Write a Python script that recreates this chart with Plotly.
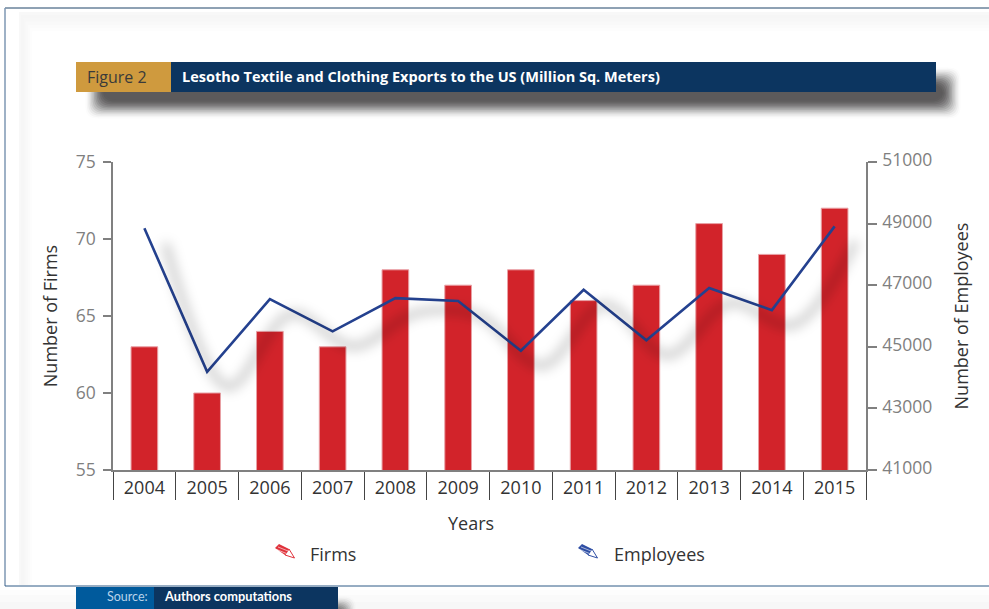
import plotly.graph_objects as go

W, H = 989, 609

# Chart data
years = ["2004", "2005", "2006", "2007", "2008", "2009",
         "2010", "2011", "2012", "2013", "2014", "2015"]
firms = [63, 60, 64, 63, 68, 67, 68, 66, 67, 71, 69, 72]
employees = [48850, 44190, 46550, 45500, 46580, 46490,
             44870, 46850, 45210, 46910, 46190, 48910]
firm_ticks = [55, 60, 65, 70, 75]
employee_ticks = [41000, 43000, 45000, 47000, 49000, 51000]

# Text
figure_label = "Figure 2"
figure_title = "Lesotho Textile and Clothing Exports to the US (Million Sq. Meters)"
source_label = "Source:"
source_text = "Authors computations"

# Colours and fonts
NAVY = "#0c3560"
GOLD = "#cf9a3e"
SOURCE_BLUE = "#005a9c"
RED = "#d2232a"
BLUE = "#24418f"
AXIS_GREY = "#808080"
TICK_GREY = "#7f7f7f"
INK = "#333333"
FONT = "Open Sans"
NARROW = "Lato"

# Plot rectangle in pixels
PX_L, PX_R, PX_T, PX_B = 113, 866, 162, 470
SHADOW_DX, SHADOW_DY = 21, 15
SHADOW_WIDTH = 8


def px(x):
    return x / W


def py(y):
    return 1 - y / H


def rect(x0, y0, x1, y1, fill, layer="below"):
    return dict(type="rect", xref="paper", yref="paper", layer=layer,
                x0=px(x0), x1=px(x1), y0=py(y0), y1=py(y1),
                fillcolor=fill, line=dict(width=0))


def round_rect_path(x0, y0, x1, y1, r):
    a, b, c, d = px(x0), px(x1), py(y0), py(y1)
    rx, ry = r / W, r / H
    return (f"M{a+rx},{c} L{b-rx},{c} Q{b},{c} {b},{c-ry} L{b},{d+ry} Q{b},{d} {b-rx},{d} "
            f"L{a+rx},{d} Q{a},{d} {a},{d+ry} L{a},{c-ry} Q{a},{c} {a+rx},{c} Z")


def soft_box(x0, y0, x1, y1, color, spread=9, steps=14):
    """Stack of translucent rounded boxes that fades out towards the edge."""
    out, prev = [], 0.0
    for i in range(1, steps + 1):
        f = i / steps
        target = f * f * (3 - 2 * f)
        alpha = 1.0 if target >= 1 else 1 - (1 - target) / (1 - prev)
        prev = target
        g = spread * (1 - 2 * f)
        out.append(dict(type="path", xref="paper", yref="paper", layer="below",
                        path=round_rect_path(x0 - g, y0 - g, x1 + g, y1 + g, spread * 1.2),
                        fillcolor=color, opacity=round(alpha, 4), line=dict(width=0)))
    return out


def pencil(x, y, body):
    """Striped legend pencil; (x, y) is the top-left of its bounding box."""
    def pt(dx, dy):
        return f"{px(x + dx)},{py(y + dy)}"

    def path(d, **kw):
        return dict(type="path", xref="paper", yref="paper", layer="above", path=d, **kw)

    return [
        path(f"M{pt(14, 5)} L{pt(19.5, 14)} L{pt(10, 11)} Z",
             fillcolor="white", line=dict(color=body, width=1)),
        path(f"M{pt(0, 4)} L{pt(4, 0)} L{pt(14, 5)} L{pt(10, 11)} Z",
             fillcolor=body, line=dict(width=0)),
        path(f"M{pt(1.5, 5.5)} L{pt(11.5, 9.5)}", line=dict(color="rgba(255,255,255,0.75)", width=0.8)),
        path(f"M{pt(3, 3)} L{pt(13, 7)}", line=dict(color="rgba(255,255,255,0.75)", width=0.8)),
    ]


shapes = []

# Pale inner glow along the frame
for i, shade in enumerate(["#f8f8f8", "#f6f6f6", "#f7f7f7", "#f9f9f9", "#fbfbfb", "#fdfdfd", "#ffffff"]):
    shapes.append(rect(19 + 2.2 * i, 12 + 3.2 * i, W, 585, shade))
shapes.append(rect(0, 590, W, 595, "#fdfdfd"))
shapes.append(rect(0, 595, W, 602, "#fafafa"))
shapes.append(rect(0, 602, W, H, "#f7f7f7"))

# Banner drop shadows
shapes += soft_box(94, 76, 952, 110, "#5c5a5b", spread=10)
shapes += soft_box(300, 604, 348, 640, "#5c5a5b")

# Page frame
shapes.append(dict(type="line", xref="paper", yref="paper", layer="below",
                   x0=px(5), x1=1, y0=py(8), y1=py(8), line=dict(color="#1f4468", width=1)))
shapes.append(dict(type="line", xref="paper", yref="paper", layer="below",
                   x0=px(5), x1=px(5), y0=py(8), y1=py(586), line=dict(color="#7e97b3", width=1.5)))
shapes.append(dict(type="line", xref="paper", yref="paper", layer="below",
                   x0=px(5), x1=1, y0=py(586), y1=py(586), line=dict(color="#2f5a86", width=1)))

# Title and source bands
shapes.append(rect(76, 62, 171, 92, GOLD))
shapes.append(rect(171, 62, 936, 92, NAVY))
shapes.append(rect(76, 587, 154, H, SOURCE_BLUE))
shapes.append(rect(154, 587, 338, H, NAVY))

# Legend pencils
shapes += pencil(275, 544, "#e0333c")
shapes += pencil(578, 544, "#2f4fa5")


def note(x, y, text, size, color=INK, family=FONT, anchor="left", angle=0):
    return dict(xref="paper", yref="paper", x=px(x), y=py(y), text=text, showarrow=False,
                xanchor=anchor, yanchor="middle", textangle=angle,
                font=dict(family=family, size=size, color=color))


annotations = [
    note(85, 77, figure_label, 16, "#3a3a3a"),
    note(180, 77, f"<b>{figure_title}</b>", 14.5, "white"),
    note(150, 596, source_label, 12.5, "#b9d3ea", NARROW, "right"),
    note(162, 596, f"<b>{source_text}</b>", 12.8, "white", NARROW),
    note(308, 554, "Firms", 18),
    note(612, 554, "Employees", 18),
    note(471, 523, "Years", 18, anchor="center"),
]

fig = go.Figure()

fig.add_trace(go.Bar(x=years, y=firms, name="Firms", xaxis="x", yaxis="y", width=0.425,
                     marker=dict(color=RED, line=dict(color="#e9a0a5", width=1)),
                     showlegend=False))

# Shadow of the employees line; softened by the SVG blur added after plotting
fig.add_trace(go.Scatter(x=years, y=employees, xaxis="x2", yaxis="y3", mode="lines",
                         line=dict(color="rgba(0,0,0,0.2)", width=SHADOW_WIDTH,
                                   shape="spline", smoothing=1.0),
                         cliponaxis=False, hoverinfo="skip", showlegend=False))

fig.add_trace(go.Scatter(x=years, y=employees, name="Employees", xaxis="x", yaxis="y2",
                         mode="lines", line=dict(color=BLUE, width=2.6),
                         cliponaxis=False, showlegend=False))

plot_w = PX_R - PX_L
plot_h = PX_B - PX_T
cat_px = plot_w / len(years)
dx_units = SHADOW_DX / cat_px
dy_units = SHADOW_DY / plot_h * (employee_ticks[-1] - employee_ticks[0])

fig.update_layout(
    width=W, height=H, autosize=False,
    margin=dict(l=0, r=0, t=0, b=0, pad=0, autoexpand=False),
    paper_bgcolor="white", plot_bgcolor="rgba(0,0,0,0)",
    font=dict(family=FONT),
    bargap=0.575,
    shapes=shapes, annotations=annotations,
    xaxis=dict(
        domain=[px(PX_L), px(PX_R)], type="category", categoryorder="array",
        categoryarray=years, range=[-0.5, 11.5], anchor="y", automargin=False,
        showline=True, linecolor=AXIS_GREY, linewidth=1.5, showgrid=False, zeroline=False,
        tickson="boundaries", ticks="outside", ticklen=28, tickcolor="#444444", tickwidth=1,
        ticklabelstandoff=1,
        tickfont=dict(family=FONT, size=18, color=INK),
    ),
    xaxis2=dict(
        overlaying="x", type="category", categoryorder="array", categoryarray=years,
        range=[-0.5 - dx_units, 11.5 - dx_units], visible=False, anchor="y3",
    ),
    yaxis=dict(
        domain=[py(PX_B), py(PX_T)], range=[firm_ticks[0], firm_ticks[-1]], tickvals=firm_ticks,
        anchor="x", automargin=False, showline=True, linecolor=AXIS_GREY, linewidth=1.5,
        showgrid=False, zeroline=False, ticks="outside", ticklen=8, tickcolor=AXIS_GREY,
        tickwidth=1.5, ticklabelstandoff=4,
        tickfont=dict(family=FONT, size=17.5, color=TICK_GREY),
        title=dict(text="Number of Firms", font=dict(family=FONT, size=18, color=INK), standoff=13),
    ),
    yaxis2=dict(
        overlaying="y", side="right", anchor="x", automargin=False,
        range=[employee_ticks[0], employee_ticks[-1]], tickvals=employee_ticks,
        tickformat="d", showline=True, linecolor=AXIS_GREY, linewidth=1.5, showgrid=False,
        zeroline=False, ticks="outside", ticklen=9, tickcolor=AXIS_GREY, tickwidth=1.5,
        ticklabelstandoff=2, ticklabelshift=-2,
        tickfont=dict(family=FONT, size=17.5, color=TICK_GREY),
        title=dict(text="Number of Employees", font=dict(family=FONT, size=18, color=INK), standoff=24),
    ),
    yaxis3=dict(
        overlaying="y", anchor="x2", visible=False,
        range=[employee_ticks[0] + dy_units, employee_ticks[-1] + dy_units],
    ),
)

# Gaussian blur for the line shadow, attached once the plot exists
blur_script = """
var plot = document.querySelector('.js-plotly-plot');
var svg = plot.querySelector('.main-svg');
var ns = 'http://www.w3.org/2000/svg';
var filter = document.createElementNS(ns, 'filter');
filter.setAttribute('id', 'line-shadow-blur');
filter.setAttribute('filterUnits', 'userSpaceOnUse');
filter.setAttribute('x', '0'); filter.setAttribute('y', '0');
filter.setAttribute('width', '%d'); filter.setAttribute('height', '%d');
var blur = document.createElementNS(ns, 'feGaussianBlur');
blur.setAttribute('stdDeviation', '6');
filter.appendChild(blur);
svg.querySelector('defs').appendChild(filter);
plot.querySelectorAll('.scatterlayer .js-line').forEach(function (p) {
  if (parseFloat(p.style.strokeWidth) === %d) { p.setAttribute('filter', 'url(#line-shadow-blur)'); }
});
""" % (W, H, SHADOW_WIDTH)

fig.write_html("out.html", config=dict(displayModeBar=False), post_script=blur_script)
